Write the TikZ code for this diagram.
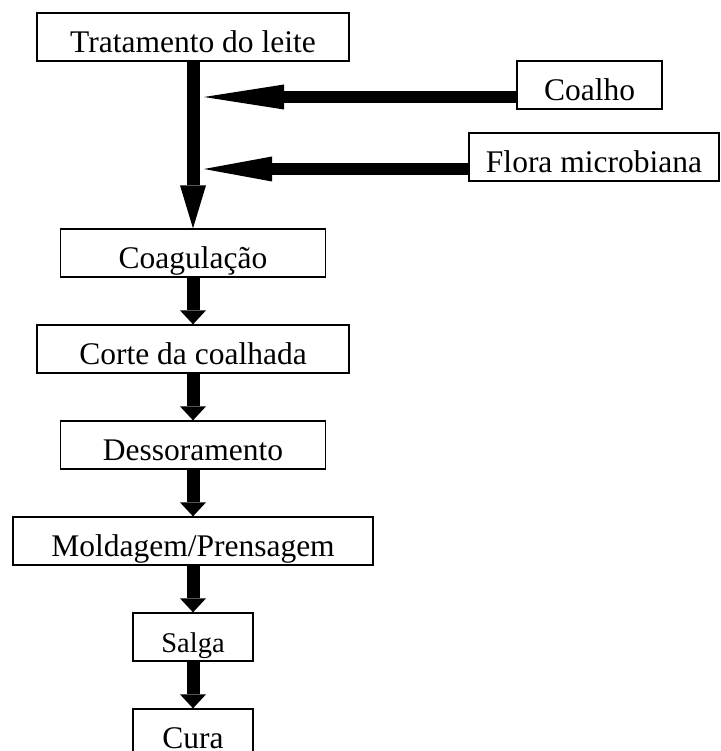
\documentclass[tikz,border=0pt]{standalone}
\usepackage{fontspec}
\setmainfont{Liberation Serif}
\usetikzlibrary{arrows.meta}
\begin{document}
\begin{tikzpicture}[x=1pt,y=-1pt,
  box/.style={draw,line width=1.3pt,inner sep=0pt,minimum height=48pt,
    text height=39.5pt,text depth=8.5pt,font=\fontsize{31.5}{36}\selectfont},
  flow/.style={line width=13pt,-{Triangle[length=14pt,width=26pt,line width=0pt]}},
  bigflow/.style={line width=13pt,-{Triangle[length=43pt,width=26pt,line width=0pt]}},
  sideflow/.style={line width=12pt,-{Triangle[length=#1,width=25pt,line width=0pt]}}]
\useasboundingbox (0,0) rectangle (720,751);
\node[box,minimum width=312pt] (trat) at (193,37) {Tratamento do leite};
\node[box,minimum width=265pt] (coag) at (193,253) {Coagulação};
\node[box,minimum width=312pt] (corte) at (193,349) {Corte da coalhada};
\node[box,minimum width=265pt] (dess) at (193,445) {Dessoramento};
\node[box,minimum width=360pt] (mold) at (193,541) {Moldagem/Prensagem};
\node[box,minimum width=120pt,font=\fontsize{28.5}{34}\selectfont] (salga) at (193,637) {Salga};
\node[box,minimum width=120pt,text height=33pt,text depth=2pt] (cura) at (193,733) {Cura};
\node[box,minimum width=145pt] (coalho) at (589.5,85) {Coalho};
\node[box,minimum width=250pt] (flora) at (594,157) {Flora microbiana};
\coordinate (m1) at (204,97);
\coordinate (m2) at (204,169);
\draw[bigflow] (trat.south) -- (coag.north);
\draw[sideflow=80pt] ([yshift=-12pt]coalho.west) -- (m1);
\draw[sideflow=68pt] ([yshift=-12pt]flora.west) -- (m2);
\draw[flow] (coag.south) -- (corte.north);
\draw[flow] (corte.south) -- (dess.north);
\draw[flow] (dess.south) -- (mold.north);
\draw[flow] (mold.south) -- (salga.north);
\draw[flow] (salga.south) -- (cura.north);
\end{tikzpicture}
\end{document}
